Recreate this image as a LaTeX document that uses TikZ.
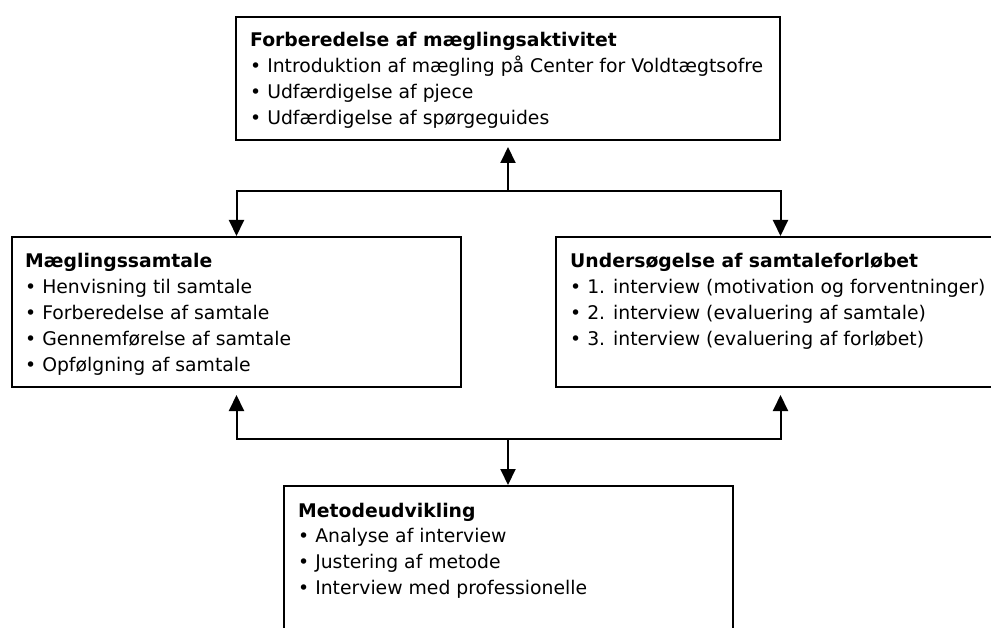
\documentclass[tikz,border=0pt]{standalone}
\usepackage{fontspec}
\setmainfont{DejaVu Sans}
\usetikzlibrary{arrows.meta,calc}
\newcommand{\boxfont}{\fontsize{18.8}{25.8}\selectfont}
\begin{document}
\begin{tikzpicture}[x=1pt,y=-1pt,
  box/.style={draw=black, line width=2pt, rectangle, inner sep=0pt, anchor=north west},
  conn/.style={line width=2pt, -{Triangle[length=16pt,width=15pt]}},
  txt/.style={anchor=base west, inner sep=0pt, align=left}
]
\useasboundingbox (0,0) rectangle (991,628);
\clip (0,0) rectangle (991,628);
\fill[white] (0,0) rectangle (991,628);

\node[box, minimum width=544pt, minimum height=123pt] (top) at (235,16) {};
\node[box, minimum width=449pt, minimum height=150pt] (left) at (11,236) {};
\node[box, minimum width=449pt, minimum height=150pt] (right) at (555,236) {};
\node[box, minimum width=449pt, minimum height=150pt] (bottom) at (283,485) {};

\node[txt] (ttop) at ($(top.north west)+(15,31)$) {\begin{minipage}[t]{530pt}\boxfont\raggedright
\textbf{Forberedelse af mæglingsaktivitet}\\
• Introduktion af mægling på Center for Voldtægtsofre\\
• Udfærdigelse af pjece\\
• Udfærdigelse af spørgeguides\end{minipage}};

\node[txt] (tleft) at ($(left.north west)+(14,32)$) {\begin{minipage}[t]{430pt}\boxfont\raggedright
\textbf{Mæglingssamtale}\\
• Henvisning til samtale\\
• Forberedelse af samtale\\
• Gennemførelse af samtale\\
• Opfølgning af samtale\end{minipage}};

\node[txt] (tright) at ($(right.north west)+(15,32)$) {\begin{minipage}[t]{430pt}\boxfont\raggedright
\textbf{Undersøgelse af samtaleforløbet}\\
• 1. interview (motivation og forventninger)\\
• 2. interview (evaluering af samtale)\\
• 3. interview (evaluering af forløbet)\end{minipage}};

\node[txt] (tbottom) at ($(bottom.north west)+(15,32)$) {\begin{minipage}[t]{430pt}\boxfont\raggedright
\textbf{Metodeudvikling}\\
• Analyse af interview\\
• Justering af metode\\
• Interview med professionelle\end{minipage}};

\coordinate (j1) at (top.south |- 0,191);
\coordinate (j2) at (top.south |- 0,439);

\draw[conn, shorten >=6pt] (j1) -- (j1 |- top.south);
\draw[conn] (j1) -| (left.north);
\draw[conn] (j1) -| (right.north);

\draw[conn, shorten >=7pt] (j2) -| (left.south);
\draw[conn, shorten >=7pt] (j2) -| (right.south);
\draw[conn] (j2) -- (j2 |- bottom.north);
\end{tikzpicture}
\end{document}
